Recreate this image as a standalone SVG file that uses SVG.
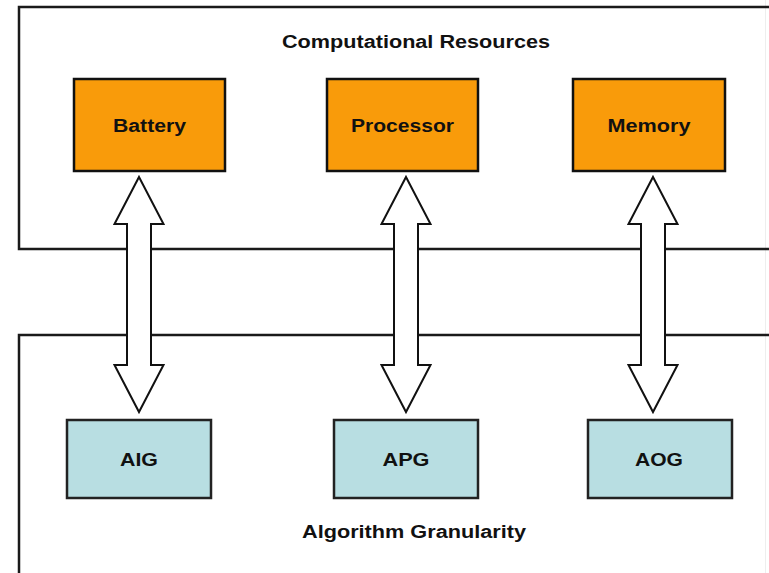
<svg xmlns="http://www.w3.org/2000/svg" width="769" height="573" viewBox="0 0 769 573">
<style>
.lbl{font-family:"Liberation Sans",Arial,sans-serif;font-weight:bold;font-size:18px;fill:#111;text-anchor:middle}
.frame{fill:none;stroke:#1a1a1a;stroke-width:2.5}
.res{fill:#F99B0A;stroke:#111;stroke-width:2.5}
.gran{fill:#B8DEE2;stroke:#222;stroke-width:2.5}
.arr{fill:#fff;stroke:#111;stroke-width:2;stroke-linejoin:miter}
</style>
<defs>
<path id="dbl" d="M0,177 L24.5,224 L12,224 L12,365 L24.5,365 L0,412 L-24.5,365 L-12,365 L-12,224 L-24.5,224 Z"/>
</defs>
<rect width="769" height="573" fill="#fff"/>
<line x1="765.5" y1="0" x2="765.5" y2="573" stroke="#eee" stroke-width="1"/>
<g id="computational-resources">
<path class="frame" d="M770,7 H19 V249 H770" stroke="#333"/>
<text class="lbl" x="416" y="48" textLength="268" lengthAdjust="spacingAndGlyphs">Computational Resources</text>
</g>
<g id="algorithm-granularity">
<path class="frame" d="M770,335 H19 V580" />
<text class="lbl" x="414" y="538" textLength="224" lengthAdjust="spacingAndGlyphs">Algorithm Granularity</text>
</g>
<g id="battery"><rect class="res" x="74" y="79" width="151" height="92"/><text class="lbl" x="149.5" y="132" textLength="73" lengthAdjust="spacingAndGlyphs">Battery</text></g>
<g id="processor"><rect class="res" x="327" y="79" width="151" height="92"/><text class="lbl" x="402.5" y="132" textLength="103" lengthAdjust="spacingAndGlyphs">Processor</text></g>
<g id="memory"><rect class="res" x="573" y="79" width="152" height="92"/><text class="lbl" x="649" y="132" textLength="83" lengthAdjust="spacingAndGlyphs">Memory</text></g>
<g id="aig"><rect class="gran" x="67" y="420" width="144" height="78"/><text class="lbl" x="139" y="466" textLength="38" lengthAdjust="spacingAndGlyphs">AIG</text></g>
<g id="apg"><rect class="gran" x="334" y="420" width="144" height="78"/><text class="lbl" x="406" y="466" textLength="47" lengthAdjust="spacingAndGlyphs">APG</text></g>
<g id="aog"><rect class="gran" x="588" y="420" width="144" height="78"/><text class="lbl" x="659" y="466" textLength="48" lengthAdjust="spacingAndGlyphs">AOG</text></g>
<g id="connectors">
<use href="#dbl" class="arr" transform="translate(139,0)"/>
<use href="#dbl" class="arr" transform="translate(406,0)"/>
<use href="#dbl" class="arr" transform="translate(653,0)"/>
</g>
</svg>
